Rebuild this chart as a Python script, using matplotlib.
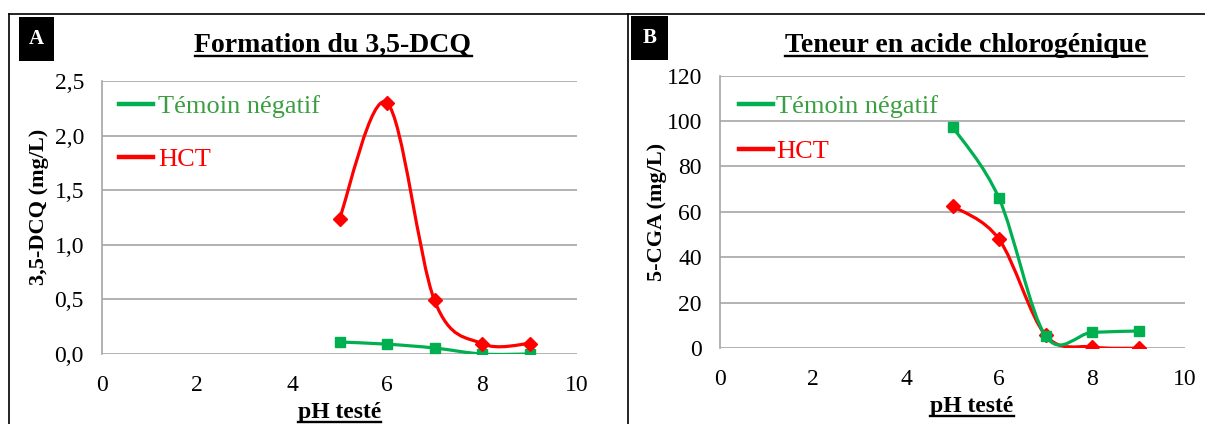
import numpy as np
import matplotlib
matplotlib.use("Agg")
import matplotlib.pyplot as plt
from matplotlib.path import Path
from matplotlib.patches import PathPatch, Rectangle
from matplotlib.lines import Line2D

# ---------------- data ----------------
ph = [5, 6, 7, 8, 9]
dcq_temoin = [0.11, 0.09, 0.055, 0.0, 0.0]
dcq_hct = [1.24, 2.30, 0.49, 0.095, 0.096]
cga_temoin = [97.5, 66.0, 5.5, 7.0, 7.6]
cga_hct = [62.6, 48.0, 5.8, 0.6, 0.0]

series_names = ["Témoin négatif", "HCT"]
x_ticks = [0, 2, 4, 6, 8, 10]
ya_ticks = [0.0, 0.5, 1.0, 1.5, 2.0, 2.5]
yb_ticks = [0, 20, 40, 60, 80, 100, 120]

GREEN = "#00B050"
GREEN_TXT = "#3A9F40"
RED = "#FF0000"
GRID = "#A6A6A6"

plt.rcParams["font.family"] = ["Liberation Serif", "DejaVu Serif"]

W, H = 1205, 424
fig = plt.figure(figsize=(W / 100, H / 100), dpi=100)


def px_rect(left, top, right, bottom):
    return [left / W, 1 - bottom / H, (right - left) / W, (bottom - top) / H]


def smooth_path(x, y):
    pts = np.column_stack([x, y]).astype(float)
    n = len(pts)
    verts = [pts[0]]
    codes = [Path.MOVETO]
    for i in range(n - 1):
        p0 = pts[i - 1] if i > 0 else pts[i]
        p1 = pts[i]
        p2 = pts[i + 1]
        p3 = pts[i + 2] if i + 2 < n else pts[i + 1]
        c1 = p1 + (p2 - p0) / 6.0
        c2 = p2 - (p3 - p1) / 6.0
        verts += [c1, c2, p2]
        codes += [Path.CURVE4] * 3
    return Path(verts, codes)


def style_axes(ax, yticks, ylabels, xlim, ylim):
    ax.set_xlim(*xlim)
    ax.set_ylim(*ylim)
    ax.set_xticks(x_ticks)
    ax.set_xticklabels([str(t) for t in x_ticks])
    ax.set_yticks(yticks)
    ax.set_yticklabels(ylabels)
    ax.tick_params(axis="both", length=0, labelsize=17)
    ax.tick_params(axis="x", pad=15)
    ax.tick_params(axis="y", pad=13)
    for s in ["top", "right", "bottom"]:
        ax.spines[s].set_visible(False)
    ax.spines["left"].set_color(GRID)
    ax.spines["left"].set_linewidth(1.2)
    ax.yaxis.grid(True, color=GRID, linewidth=1.2)
    ax.set_axisbelow(True)


def draw_series(ax, x, y, color, marker, ms):
    ax.add_patch(PathPatch(smooth_path(x, y), facecolor="none", edgecolor=color,
                           linewidth=2.3, zorder=3, capstyle="round"))
    ax.plot(x, y, linestyle="none", marker=marker, color=color, markersize=ms, zorder=4)


# ---------------- panel A ----------------
axA = fig.add_axes(px_rect(102, 81, 577, 354))
style_axes(axA, ya_ticks, [f"{v:.1f}".replace(".", ",") for v in ya_ticks], (0, 10), (0, 2.5))
draw_series(axA, ph, dcq_temoin, GREEN, "s", 7.5)
draw_series(axA, ph, dcq_hct, RED, "D", 7.0)
axA.set_ylabel("3,5-DCQ (mg/L)", fontsize=16, fontweight="bold")
axA.yaxis.set_label_coords(-0.112, 0.54)
axA.set_xlabel("pH testé", fontsize=17, fontweight="bold")
axA.xaxis.set_label_coords(0.5, -0.176)

hA = [Line2D([], [], color=GREEN, lw=3.2), Line2D([], [], color=RED, lw=3.2)]
legA = axA.legend(hA, series_names, loc="upper left", bbox_to_anchor=(17 / 475, 1 - 14 / 273),
                  frameon=False, fontsize=19, handlelength=1.3, handletextpad=0.18,
                  borderpad=0, borderaxespad=0, labelspacing=1.12, labelcolor=[GREEN_TXT, RED])

# ---------------- panel B ----------------
axB = fig.add_axes(px_rect(720, 75.5, 1185, 348.3))
style_axes(axB, yb_ticks, [str(v) for v in yb_ticks], (0, 10), (0, 120))
draw_series(axB, ph, cga_hct, RED, "D", 7.0)
draw_series(axB, ph, cga_temoin, GREEN, "s", 7.5)
axB.set_ylabel("5-CGA (mg/L)", fontsize=16, fontweight="bold")
axB.yaxis.set_label_coords(-0.114, 0.5)
axB.set_xlabel("pH testé", fontsize=17, fontweight="bold")
axB.xaxis.set_label_coords(0.542, -0.176)

hB = [Line2D([], [], color=GREEN, lw=3.2), Line2D([], [], color=RED, lw=3.2)]
legB = axB.legend(hB, series_names, loc="upper left", bbox_to_anchor=(19 / 465, 1 - 19 / 273),
                  frameon=False, fontsize=19, handlelength=1.3, handletextpad=0.12,
                  borderpad=0, borderaxespad=0, labelspacing=0.82, labelcolor=[GREEN_TXT, RED])

# ---------------- titles ----------------
tA = fig.text(333 / W, 1 - 52 / H, "Formation du 3,5-DCQ", ha="center", va="baseline",
              fontsize=20, fontweight="bold")
tB = fig.text(966 / W, 1 - 52 / H, "Teneur en acide chlorogénique", ha="center", va="baseline",
              fontsize=20, fontweight="bold")

# ---------------- frame & panel letters ----------------
fig.add_artist(Line2D([9 / W, 1], [1 - 14 / H] * 2, color="black", lw=1.2))
fig.add_artist(Line2D([9 / W] * 2, [0, 1 - 14 / H], color="black", lw=1.2))
fig.add_artist(Line2D([628 / W] * 2, [0, 1 - 14 / H], color="black", lw=1.2))

for (l, t, r, b, letter) in [(19, 17, 54, 61, "A"), (631, 16, 668, 60, "B")]:
    fig.add_artist(Rectangle((l / W, 1 - b / H), (r - l) / W, (b - t) / H,
                             facecolor="black", edgecolor="none", transform=fig.transFigure))
    fig.text((l + r) / 2 / W, 1 - (t + b) / 2 / H, letter, color="white", ha="center",
             va="center", fontsize=15, fontweight="bold")

# ---------------- underlines ----------------
fig.canvas.draw()
renderer = fig.canvas.get_renderer()
inv = fig.transFigure.inverted()


def underline(textobj, offset_px, lw=1.7):
    bb = textobj.get_window_extent(renderer)
    (x0, y0), (x1, _) = inv.transform([[bb.x0, bb.y0 + offset_px], [bb.x1, bb.y0]])
    fig.add_artist(Line2D([x0, x1], [y0, y0], color="black", lw=lw))


underline(tA, 2.5)
underline(tB, 2.5)
underline(axA.xaxis.label, 1.0)
underline(axB.xaxis.label, 1.0)

fig.savefig("out.png", dpi=100)
